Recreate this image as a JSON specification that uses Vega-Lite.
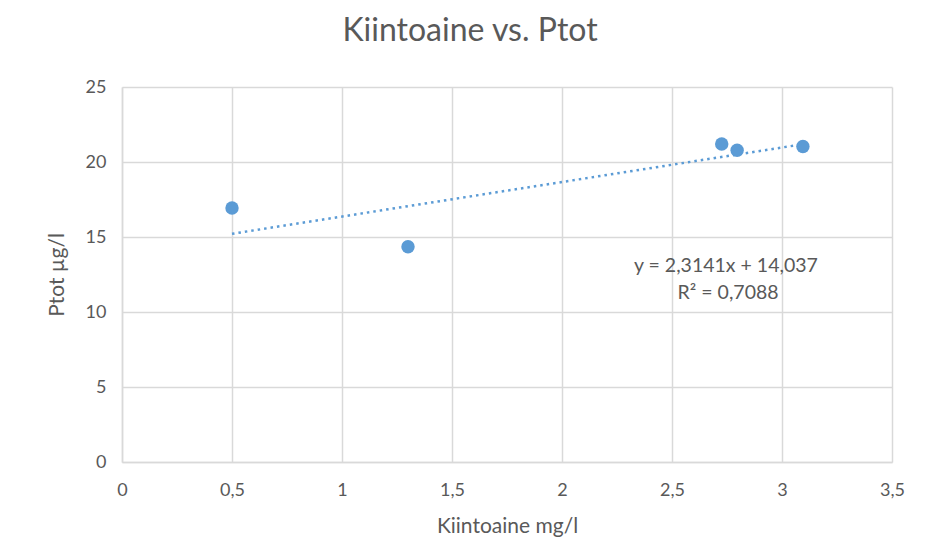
{
  "$schema": "https://vega.github.io/schema/vega-lite/v6.json",
  "width": 770,
  "height": 375,
  "autosize": {"type": "none"},
  "padding": {"left": 122, "top": 87, "right": 36, "bottom": 89},
  "background": "white",
  "title": {"text": "Kiintoaine vs. Ptot", "fontSize": 32, "font": "Lato", "fontWeight": "normal", "color": "#595959", "anchor": "middle", "dx": -37, "offset": 30},
  "datasets": {
    "points": [
      {"Kiintoaine": 0.5, "Ptot": 16.93},
      {"Kiintoaine": 1.3, "Ptot": 14.35},
      {"Kiintoaine": 2.726, "Ptot": 21.2},
      {"Kiintoaine": 2.796, "Ptot": 20.78},
      {"Kiintoaine": 3.095, "Ptot": 21.03}
    ],
    "labels": [
      {"Kiintoaine": 2.745, "Ptot": 13.07, "label": "y = 2,3141x + 14,037"},
      {"Kiintoaine": 2.755, "Ptot": 11.27, "label": "R² = 0,7088"}
    ]
  },
  "encoding": {
    "x": {"field": "Kiintoaine", "type": "quantitative",
      "scale": {"domain": [0, 3.5], "nice": false, "zero": true},
      "axis": {"title": "Kiintoaine mg/l", "values": [0, 0.5, 1, 1.5, 2, 2.5, 3, 3.5], "labelExpr": "replace(format(datum.value, '~g'), '.', ',')", "labelFlush": false, "labelPadding": 19, "titlePadding": 16}},
    "y": {"field": "Ptot", "type": "quantitative",
      "scale": {"domain": [0, 25], "nice": false},
      "axis": {"title": "Ptot µg/l", "values": [0, 5, 10, 15, 20, 25], "labelFlush": false, "labelPadding": 16, "titlePadding": 18}}
  },
  "layer": [
    {
      "data": {"name": "points"},
      "transform": [{"regression": "Ptot", "on": "Kiintoaine"}],
      "mark": {"type": "line", "color": "#5B9BD5", "strokeWidth": 2.5, "strokeDash": [2.5, 4]}
    },
    {
      "data": {"name": "points"},
      "mark": {"type": "circle", "size": 180, "color": "#5B9BD5", "opacity": 1}
    },
    {
      "data": {"name": "labels"},
      "mark": {"type": "text", "fontSize": 19.5, "font": "Lato", "color": "#595959", "baseline": "middle", "align": "center"},
      "encoding": {"text": {"field": "label"}}
    }
  ],
  "config": {
    "view": {"stroke": null},
    "axis": {
      "grid": true, "gridColor": "#D9D9D9", "gridWidth": 1.5,
      "domainColor": "#D9D9D9", "domainWidth": 1.5,
      "ticks": false,
      "labelFont": "Lato", "labelFontSize": 18, "labelColor": "#595959",
      "titleFont": "Lato", "titleFontSize": 21, "titleColor": "#595959", "titleFontWeight": "normal"
    }
  }
}
